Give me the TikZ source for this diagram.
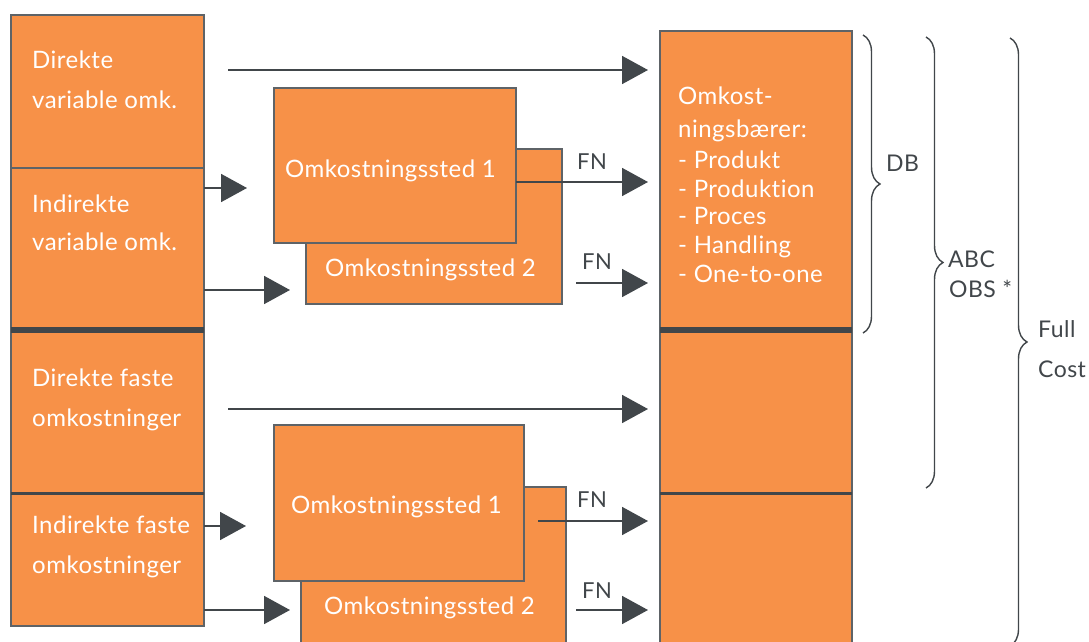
\documentclass[tikz,border=0pt]{standalone}
\usepackage{fontspec}
\setmainfont{Lato}[LetterSpace=2, Ligatures=NoCommon]
\usetikzlibrary{arrows.meta,decorations.pathreplacing}
\definecolor{orng}{HTML}{F79148}
\definecolor{ink}{HTML}{41464A}
\definecolor{edge}{HTML}{5E6367}

\begin{document}
\begin{tikzpicture}[x=1pt,y=-1pt,
  box/.style={draw=edge, line width=1.5pt, fill=orng, anchor=north west,
              inner sep=0pt, outer sep=0pt},
  wtxt/.style={text=white, font=\fontsize{24}{24}\selectfont, anchor=base west, inner sep=0pt},
  gtxt/.style={text=ink, font=\fontsize{23}{23}\selectfont, anchor=base west, inner sep=0pt},
  fntxt/.style={text=ink, font=\fontsize{22}{22}\selectfont, anchor=base west, inner sep=0pt},
  arr/.style={draw=ink, line width=1.8pt, -{Triangle[length=26pt,width=28pt]}},
  divider/.style={draw=ink, line width=#1},
  brc/.style={draw=ink, line width=1.4pt, decorate, decoration={brace, amplitude=17pt}}
]
\useasboundingbox (0,0) rectangle (1089,642);
\clip (0,0) rectangle (1089,642);

% cost types (left column)
\node[box, minimum width=193pt, minimum height=153pt] (L1) at (11,15) {};
\node[box, minimum width=193pt, minimum height=162pt] (L2) at (11,168) {};
\node[box, minimum width=193pt, minimum height=163pt] (L3) at (11,330) {};
\node[box, minimum width=193pt, minimum height=133pt] (L4) at (11,493) {};
\draw[divider=6.5pt] (L2.south west) -- (L2.south east);
\draw[divider=3pt] (L3.south west) -- (L3.south east);

% cost objects (right column)
\node[box, minimum width=192pt, minimum height=299pt] (R1) at (660,31) {};
\node[box, minimum width=192pt, minimum height=163pt] (R2) at (660,330) {};
\node[box, minimum width=192pt, minimum height=165pt] (R3) at (660,493) {};
\draw[divider=6.5pt] (R1.south west) -- (R1.south east);
\draw[divider=3pt] (R2.south west) -- (R2.south east);

% cost centres
\node[box, minimum width=256pt, minimum height=155pt] (A2) at (306,149) {};
\node[box, minimum width=242pt, minimum height=155pt] (A1) at (274,88) {};
\node[box, minimum width=265pt, minimum height=165pt] (B2) at (301,487) {};
\node[box, minimum width=250pt, minimum height=156pt] (B1) at (274,425) {};

% texts in the boxes
\node[wtxt] (t1a) at (32,68) {Direkte};
\node[wtxt] (t1b) at (32,108) {variable omk.};
\node[wtxt] (t2a) at (32,212) {Indirekte};
\node[wtxt] (t2b) at (32,250) {variable omk.};
\node[wtxt] (t3a) at (32,386) {Direkte faste};
\node[wtxt] (t3b) at (32,426) {omkostninger};
\node[wtxt] (t4a) at (32,533) {Indirekte faste};
\node[wtxt] (t4b) at (32,573) {omkostninger};

\node[wtxt] (ta1) at (285,177) {Omkostningssted 1};
\node[wtxt] (ta2) at (325,276) {Omkostningssted 2};
\node[wtxt] (tb1) at (291,513) {Omkostningssted 1};
\node[wtxt] (tb2) at (324,614) {Omkostningssted 2};

\node[wtxt] (r1) at (678,104) {Omkost-};
\node[wtxt] (r2) at (678,137) {ningsbærer:};
\node[wtxt] (r3) at (678,168) {- Produkt};
\node[wtxt] (r4) at (678,197) {- Produktion};
\node[wtxt] (r5) at (678,224) {- Proces};
\node[wtxt] (r6) at (678,253) {- Handling};
\node[wtxt] (r7) at (678,282) {- One-to-one};

% direct costs
\coordinate (d1) at (228,70);
\coordinate (d2) at (228,409);
\draw[arr, shorten >=12pt] (d1) -- (d1 -| R1.west);
\draw[arr, shorten >=12pt] (d2) -- (d2 -| R2.west);

% indirect costs to the cost centres
\draw[arr, shorten >=27pt] (L2.east |- 0,188) -- (A1.west |- 0,188);
\draw[arr, shorten >=16pt] (L2.east |- 0,290) -- (A2.west |- 0,290);
\draw[arr, shorten >=28pt] (L4.east |- 0,526) -- (B1.west |- 0,526);
\draw[arr, shorten >=11pt] (L4.east |- 0,610) -- (B2.west |- 0,610);

% allocation keys (FN)
\coordinate (f2) at (576,283);
\coordinate (f3) at (538,521);
\coordinate (f4) at (576,610);
\draw[arr, shorten >=12pt] (A1.east |- 0,182) -- (R1.west |- 0,182);
\draw[arr, shorten >=12pt] (f2) -- (f2 -| R1.west);
\draw[arr, shorten >=12pt] (f3) -- (f3 -| R3.west);
\draw[arr, shorten >=12pt] (f4) -- (f4 -| R3.west);
\node[fntxt] (fn1) at (577,169) {FN};
\node[fntxt] (fn2) at (582,269) {FN};
\node[fntxt] (fn3) at (577,507) {FN};
\node[fntxt] (fn4) at (582,598) {FN};

% calculation scopes
\draw[brc] (863,35) -- (863,333);
\draw[brc] (926,37) -- (926,488);
\draw[brc] (1010,38) -- (1010,646);
\node[gtxt] (db) at (886,171) {DB};
\node[gtxt] (abc) at (948,267) {ABC};
\node[gtxt] (obs) at (949,297) {OBS *};
\node[gtxt] (full) at (1038,337) {Full};
\node[gtxt] (cost) at (1038,377) {Cost};
\end{tikzpicture}
\end{document}
